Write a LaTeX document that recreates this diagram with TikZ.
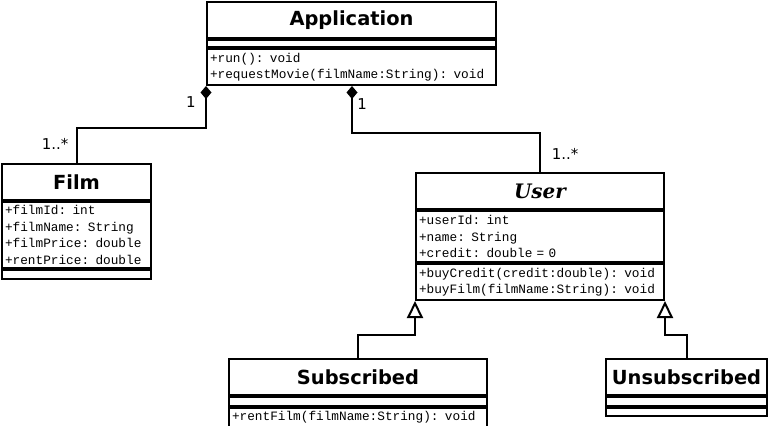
\documentclass[tikz,border=0pt]{standalone}
\usepackage{fontspec}
\usepackage{tikz}
\usetikzlibrary{positioning, arrows.meta}

\newfontfamily\titlefont{DejaVu Sans}
\newfontfamily\userfont{DejaVu Serif}
\newfontfamily\memberfont{Liberation Mono}
\newfontfamily\multfont{DejaVu Sans}

\begin{document}
\begin{tikzpicture}[x=1bp, y=-1bp,
  classtitle/.style={draw, line width=2bp, anchor=north west, minimum height=36bp,
    inner sep=0pt, font=\titlefont\bfseries\fontsize{19.5}{22}\selectfont},
  members/.style={draw, line width=2bp, inner xsep=3bp, inner ysep=0pt, align=left,
    font=\memberfont\fontsize{12.8}{16.5}\selectfont},
  mult/.style={inner sep=0pt, font=\multfont\fontsize{15}{17}\selectfont},
  composition/.style={line width=2bp, {Diamond[length=13bp, width=11bp]}-},
  generalization/.style={line width=2bp, -{Triangle[open, length=17bp, width=16bp, fill=white]}}]

\useasboundingbox (0,0) rectangle (769,425);

%───────────────────────────────────────────────────────
% Command to draw one class box with three sections
% #1 = name, (#2,#3) = top left corner, #4 = width
% #5 = title, #6/#7 = attributes and height, #8/#9 = operations and height
%───────────────────────────────────────────────────────
\newcommand{\drawClass}[9]{%
  \pgfmathsetmacro{\tw}{#4-6}
  \node[classtitle, minimum width=#4bp] (#1) at (#2,#3) {#5};
  \node[members, minimum width=#4bp, text width=\tw bp, minimum height=#7bp,
    below=0pt of #1] (#1-attr) {#6};
  \node[members, minimum width=#4bp, text width=\tw bp, minimum height=#9bp,
    below=0pt of #1-attr] (#1-ops) {#8};
}

%─────────────
% Classes
%─────────────
\drawClass{app}{206}{1}{289}{Application}{}{7}
  {+run(): void\\+requestMovie(filmName:String): void}{36}

\drawClass{film}{1}{163}{149}{Film}
  {+filmId: int\\+filmName: String\\+filmPrice: double\\+rentPrice: double}{66}{}{9}

\drawClass{user}{415}{172}{248}{{\userfont\itshape\fontsize{20}{22}\selectfont User}}
  {+userId: int\\+name: String\\+credit: double = 0}{51}
  {+buyCredit(credit:double): void\\+buyFilm(filmName:String): void}{36}

\drawClass{sub}{228}{358}{258}{Subscribed}{}{9}{+rentFilm(filmName:String): void}{19}
\drawClass{unsub}{605}{358}{161}{Unsubscribed}{}{9}{}{8}

%─────────────
% Compositions
%─────────────
\draw[composition] (app-ops.south west) -- ++(0,42) -| (film.north);
\draw[composition] ([xshift=146bp]app-ops.south west) -- ++(0,47) -| (user.north);

% Multiplicities
\node[mult] (app-film-one)  at (191,102) {1};
\node[mult] (app-film-many) at (55,144)  {1..*};
\node[mult] (app-user-one)  at (362,104) {1};
\node[mult] (app-user-many) at (565,154) {1..*};

%─────────────
% Generalizations
%─────────────
\draw[generalization] (sub.north) -- ++(0,-23) -| (user-ops.south west);
\draw[generalization] (unsub.north) -- ++(0,-23) -| (user-ops.south east);

\end{tikzpicture}
\end{document}
